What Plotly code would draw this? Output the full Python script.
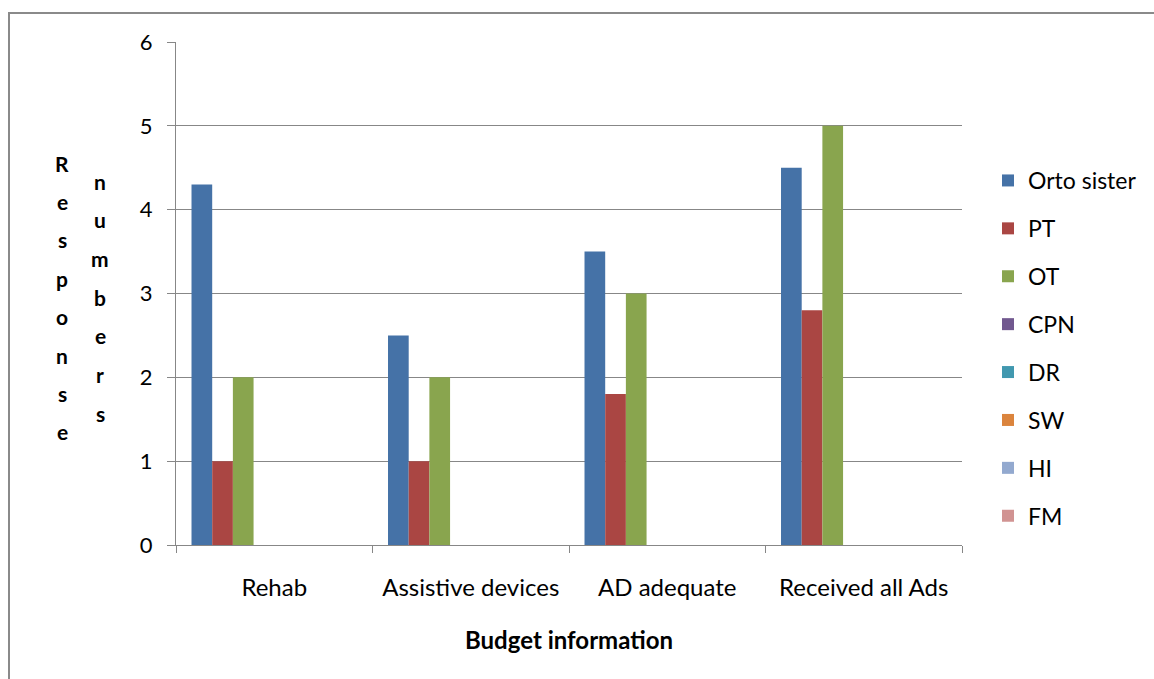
import plotly.graph_objects as go

# Budget information responses by staff category
categories = ["Rehab", "Assistive devices", "AD adequate", "Received all Ads"]
series_names = ["Orto sister", "PT", "OT", "CPN", "DR", "SW", "HI", "FM"]
orto_sister = [4.3, 2.5, 3.5, 4.5]
pt = [1.0, 1.0, 1.8, 2.8]
ot = [2.0, 2.0, 3.0, 5.0]
cpn = [0, 0, 0, 0]
dr = [0, 0, 0, 0]
sw = [0, 0, 0, 0]
hi = [0, 0, 0, 0]
fm = [0, 0, 0, 0]
series_values = [orto_sister, pt, ot, cpn, dr, sw, hi, fm]
colors = ["#4572A7", "#AA4643", "#89A54E", "#71588F",
          "#4198AF", "#DB843D", "#93A9CF", "#D19392"]
y_ticks = [0, 1, 2, 3, 4, 5, 6]

FONT = "Lato"
W, H = 1154, 679
ML, MR, MT, MB = 176, 192, 42, 134
PW, PH = W - ML - MR, H - MT - MB


def px_to_paper(x, y):
    return (x - ML) / PW, (H - MB - y) / PH


fig = go.Figure()
for i, (name, vals) in enumerate(zip(series_names, series_values)):
    fig.add_trace(go.Bar(
        x=categories, y=vals, name=name,
        marker=dict(color=colors[i], line=dict(width=0)),
        legendgroup=name,
    ))

# Axis title drawn as two vertical columns of letters
annotations = []
for word, xpx, ypx0, step in [("Response", 62, 163, 38.4), ("numbers", 100, 181, 38.7)]:
    for k, ch in enumerate(word):
        xp, yp = px_to_paper(xpx, ypx0 + k * step)
        annotations.append(dict(
            text=ch, x=xp, y=yp, xref="paper", yref="paper",
            showarrow=False, xanchor="center", yanchor="middle",
            font=dict(family=FONT, size=21, color="#000000", weight="bold"),
        ))

xt, yt = px_to_paper(569, 639)
annotations.append(dict(
    text="<b>Budget information</b>", x=xt, y=yt, xref="paper", yref="paper",
    showarrow=False, xanchor="center", yanchor="middle",
    font=dict(family=FONT, size=24, color="#000000"),
))

bx0, by1 = px_to_paper(9, 13)
fig.add_shape(type="rect", xref="paper", yref="paper",
              x0=bx0, x1=2.0, y0=-2.0, y1=by1,
              line=dict(color="#8A8A8A", width=2), layer="below")

fig.update_layout(
    width=W, height=H,
    margin=dict(l=ML, r=MR, t=MT, b=MB, pad=0),
    paper_bgcolor="white", plot_bgcolor="white",
    barmode="group", bargap=1.5 / 9.5, bargroupgap=0,
    font=dict(family=FONT, size=23, color="#000000"),
    showlegend=True,
    legend=dict(
        x=px_to_paper(988, 0)[0], y=px_to_paper(0, 159)[1],
        xanchor="left", yanchor="top",
        traceorder="grouped", tracegroupgap=15,
        font=dict(family=FONT, size=23, color="#000000"),
        bgcolor="rgba(0,0,0,0)", itemwidth=30,
    ),
    annotations=annotations,
    xaxis=dict(
        type="category", tickson="boundaries", ticks="outside",
        ticklen=7, tickcolor="#878787", tickwidth=1,
        showline=True, linecolor="#878787", linewidth=1,
        showgrid=False,
        tickfont=dict(family=FONT, size=24, color="#000000"),
        ticklabelstandoff=21,
    ),
    yaxis=dict(
        range=[0, 6], tickvals=y_ticks, ticks="outside",
        ticklen=8, tickcolor="#878787", tickwidth=1,
        showline=True, linecolor="#878787", linewidth=1,
        showgrid=True, gridcolor="#878787", gridwidth=1,
        zeroline=False,
        tickfont=dict(family=FONT, size=22, color="#000000"),
        ticklabelstandoff=10,
    ),
)

fig.write_html("out.html")
